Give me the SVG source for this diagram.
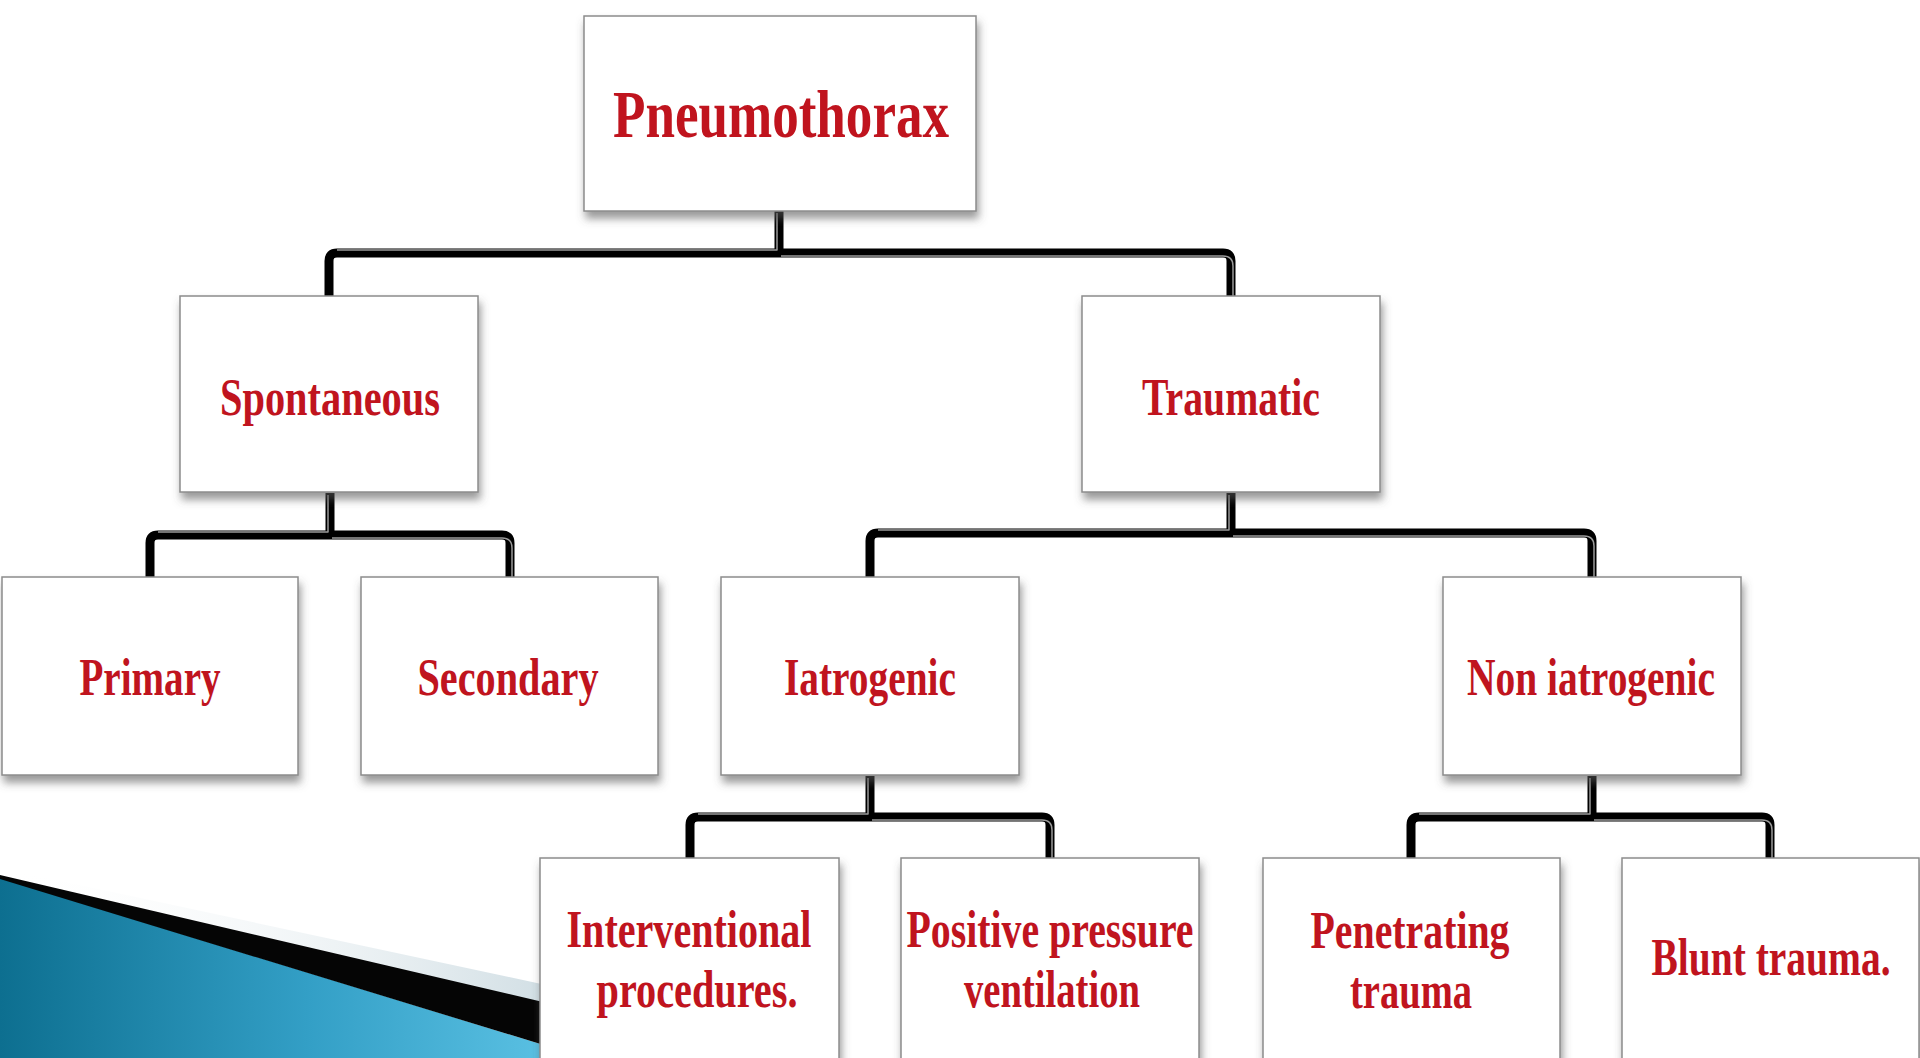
<svg xmlns="http://www.w3.org/2000/svg" width="1920" height="1058" viewBox="0 0 1920 1058">
<defs>
<style>
.box{fill:#ffffff;stroke:#8c8c8c;stroke-width:1.5;filter:url(#sh)}
.t{font-family:"Liberation Serif","Times New Roman",serif;font-weight:bold;fill:#c0141e;text-anchor:middle}
.f52{font-size:52px}
.f68{font-size:68px}
.con{fill:none;stroke:#000;stroke-width:9;stroke-linejoin:round}
.hl{fill:none;stroke:#9a9a9a;stroke-width:1.5;stroke-linejoin:round}
</style>
<filter id="sh" x="-10%" y="-10%" width="120%" height="130%">
<feGaussianBlur in="SourceAlpha" stdDeviation="4"/>
<feOffset dx="2" dy="7" result="b"/>
<feFlood flood-color="#555" flood-opacity="0.6"/>
<feComposite in2="b" operator="in"/>
<feMerge><feMergeNode/><feMergeNode in="SourceGraphic"/></feMerge>
</filter>
<linearGradient id="blue" x1="0" y1="0" x2="1" y2="0">
<stop offset="0" stop-color="#0d6f90"/>
<stop offset="0.55" stop-color="#339fc6"/>
<stop offset="1" stop-color="#5cc2e4"/>
</linearGradient>
<linearGradient id="lite" x1="0" y1="0" x2="1" y2="0">
<stop offset="0" stop-color="#ffffff" stop-opacity="0"/>
<stop offset="1" stop-color="#cfdde3"/>
</linearGradient>
</defs>
<rect width="1920" height="1058" fill="#ffffff"/>
<g id="swoosh">
<polygon points="0,868 560,988 560,1008 0,876" fill="url(#lite)"/>
<polygon points="0,878 560,1050 560,1058 0,1058" fill="url(#blue)"/>
<polygon points="0,875 560,1006 560,1050 0,879" fill="#050505"/>
</g>
<g id="connectors">
<path class="con" d="M779,211 V253 H337 Q329,253 329,261 V296 M779,253 H1223 Q1231,253 1231,261 V296"/>
<path class="hl" d="M777,213 V250 H337 M781,256 H1223 Q1233,256 1233,266 V296"/>
<path class="con" d="M330,493 V535 H158 Q150,535 150,543 V577 M330,535 H502 Q510,535 510,543 V577"/>
<path class="hl" d="M328,495 V532 H158 M332,538 H502 Q512,538 512,548 V577"/>
<path class="con" d="M1231,493 V533 H878 Q870,533 870,541 V577 M1231,533 H1584 Q1592,533 1592,541 V577"/>
<path class="hl" d="M1229,495 V530 H878 M1233,536 H1584 Q1594,536 1594,546 V577"/>
<path class="con" d="M870,776 V817 H698 Q690,817 690,825 V858 M870,817 H1042 Q1050,817 1050,825 V858"/>
<path class="hl" d="M868,778 V814 H698 M872,820 H1042 Q1052,820 1052,830 V858"/>
<path class="con" d="M1592,776 V817 H1419 Q1411,817 1411,825 V858 M1592,817 H1762 Q1770,817 1770,825 V858"/>
<path class="hl" d="M1590,778 V814 H1419 M1594,820 H1762 Q1772,820 1772,830 V858"/>
</g>
<g id="n-pneumothorax"><rect class="box" x="584" y="16" width="392" height="195"/><text class="t f68" x="781" y="137" textLength="336" lengthAdjust="spacingAndGlyphs">Pneumothorax</text></g>
<g id="n-spontaneous"><rect class="box" x="180" y="296" width="298" height="196"/><text class="t f52" x="330" y="415" textLength="220" lengthAdjust="spacingAndGlyphs">Spontaneous</text></g>
<g id="n-traumatic"><rect class="box" x="1082" y="296" width="298" height="196"/><text class="t f52" x="1231" y="415" textLength="178" lengthAdjust="spacingAndGlyphs">Traumatic</text></g>
<g id="n-primary"><rect class="box" x="2" y="577" width="296" height="198"/><text class="t f52" x="150" y="695" textLength="141" lengthAdjust="spacingAndGlyphs">Primary</text></g>
<g id="n-secondary"><rect class="box" x="361" y="577" width="297" height="198"/><text class="t f52" x="508" y="695" textLength="181" lengthAdjust="spacingAndGlyphs">Secondary</text></g>
<g id="n-iatrogenic"><rect class="box" x="721" y="577" width="298" height="198"/><text class="t f52" x="870" y="695" textLength="172" lengthAdjust="spacingAndGlyphs">Iatrogenic</text></g>
<g id="n-noniatrogenic"><rect class="box" x="1443" y="577" width="298" height="198"/><text class="t f52" x="1591" y="695" textLength="248" lengthAdjust="spacingAndGlyphs">Non iatrogenic</text></g>
<g id="n-interventional"><rect class="box" x="540" y="858" width="299" height="210"/><text class="t f52" x="689" y="947" textLength="245" lengthAdjust="spacingAndGlyphs">Interventional</text><text class="t f52" x="697" y="1007" textLength="201" lengthAdjust="spacingAndGlyphs">procedures.</text></g>
<g id="n-positive"><rect class="box" x="901" y="858" width="298" height="210"/><text class="t f52" x="1050" y="947" textLength="287" lengthAdjust="spacingAndGlyphs">Positive pressure</text><text class="t f52" x="1052" y="1007" textLength="176" lengthAdjust="spacingAndGlyphs">ventilation</text></g>
<g id="n-penetrating"><rect class="box" x="1263" y="858" width="297" height="210"/><text class="t f52" x="1410" y="948" textLength="199" lengthAdjust="spacingAndGlyphs">Penetrating</text><text class="t f52" x="1411" y="1008" textLength="122" lengthAdjust="spacingAndGlyphs">trauma</text></g>
<g id="n-blunt"><rect class="box" x="1622" y="858" width="297" height="210"/><text class="t f52" x="1771" y="975" textLength="239" lengthAdjust="spacingAndGlyphs">Blunt trauma.</text></g>
</svg>
